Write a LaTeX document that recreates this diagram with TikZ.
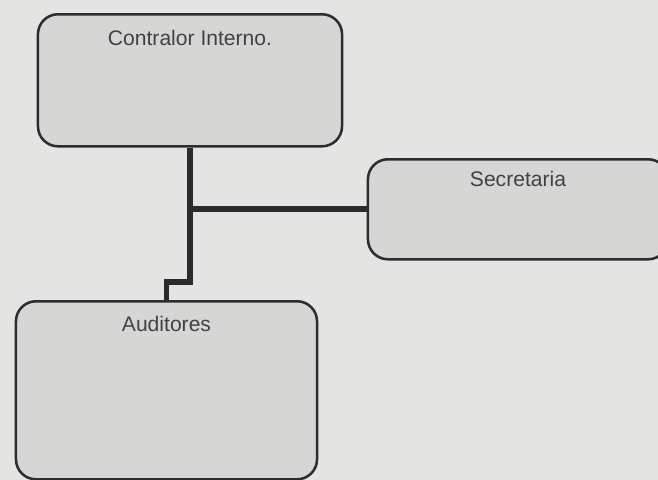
\documentclass[tikz,border=0pt]{standalone}
\usepackage{fontspec}
\setmainfont{Liberation Sans}
\definecolor{paper}{RGB}{228,228,226}
\definecolor{boxgray}{RGB}{214,214,212}
\definecolor{ink}{RGB}{45,45,45}
\begin{document}
\begin{tikzpicture}[x=0.025cm,y=-0.025cm,
   unit/.style={draw=ink,line width=1.8pt,fill=boxgray,rounded corners=0.5cm,
      anchor=north,inner sep=0pt,font=\fontsize{15}{18}\selectfont,text=ink!90},
   link/.style={draw=ink!95!black,line width=4pt}]
   \useasboundingbox (0,0) rectangle (658,480);
   \fill[paper] (0,0) rectangle (658,480);

   \node[unit,minimum width=7.6cm,text height=0.775cm,text depth=2.525cm] (ctrl) at (190,13) {Contralor Interno.};
   \node[unit,minimum width=7.5cm,text height=0.69cm,text depth=1.81cm] (sec) at (518,158) {Secretaria};
   \node[unit,minimum width=7.525cm,text height=0.76cm,text depth=3.69cm] (aud) at (166.5,300) {Auditores};

   \coordinate (knee) at (190,282);

   \draw[link] (ctrl.south) -- (knee) -| (aud.north);
   \draw[link] (sec.west) -- (sec.west -| ctrl.south);
\end{tikzpicture}
\end{document}
